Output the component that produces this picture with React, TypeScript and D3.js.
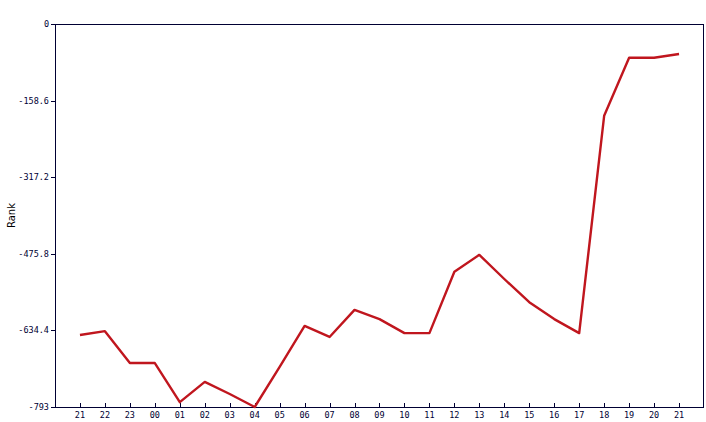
import React from "react";
import * as d3 from "d3";

const hours = ["21","22","23","00","01","02","03","04","05","06","07","08","09","10","11","12","13","14","15","16","17","18","19","20","21"];
const ranks = [-644,-636,-702,-702,-783,-741,-766,-793,-710,-625,-648,-592,-611,-640,-640,-513,-478,-528,-576,-611,-640,-190,-70,-70,-62];
const yTicks = [0,-158.6,-317.2,-475.8,-634.4,-793];
const yTickLabels = ["0","-158.6","-317.2","-475.8","-634.4","-793"];

export default function App() {
  const W = 706, H = 422;
  const left = 55, right = 703, top = 24, bottom = 407;
  const x = d3.scaleLinear().domain([-1, 24.96]).range([left, right]);
  const y = d3.scaleLinear().domain([-793, 0]).range([bottom, top]);
  const line = d3.line<number>().x((_, i) => x(i)).y(d => y(d));
  const axisColor = "#000033";
  const font = "'DejaVu Sans Mono', monospace";
  return (
    <svg width={W} height={H} style={{ position: "absolute", left: 0, top: 0, background: "#fff" }}>
      <rect x={left + 0.5} y={top + 0.5} width={right - left} height={bottom - top} fill="none" stroke={axisColor} strokeWidth={1} />
      {yTicks.map((t, i) => (
        <g key={i}>
          <line x1={left - 4} x2={left + 1} y1={Math.round(y(t)) + 0.5} y2={Math.round(y(t)) + 0.5} stroke={axisColor} />
          <text x={left - 6} y={y(t) + 3} textAnchor="end" fontFamily={font} fontSize={8.5} fill={axisColor}>{yTickLabels[i]}</text>
        </g>
      ))}
      {hours.map((h, i) => (
        <g key={i}>
          <line x1={Math.round(x(i)) + 0.5} x2={Math.round(x(i)) + 0.5} y1={bottom - 4} y2={bottom} stroke={axisColor} />
          <text x={x(i)} y={418} textAnchor="middle" fontFamily={font} fontSize={8.5} fill={axisColor}>{h}</text>
        </g>
      ))}
      <text transform={`translate(15,${(top + bottom) / 2}) rotate(-90)`} textAnchor="middle" fontFamily="'DejaVu Sans', sans-serif" fontSize={10} fill="#000">Rank</text>
      <path d={line(ranks) ?? ""} fill="none" stroke="#c0161e" strokeWidth={2.4} strokeLinejoin="round" />
    </svg>
  );
}
